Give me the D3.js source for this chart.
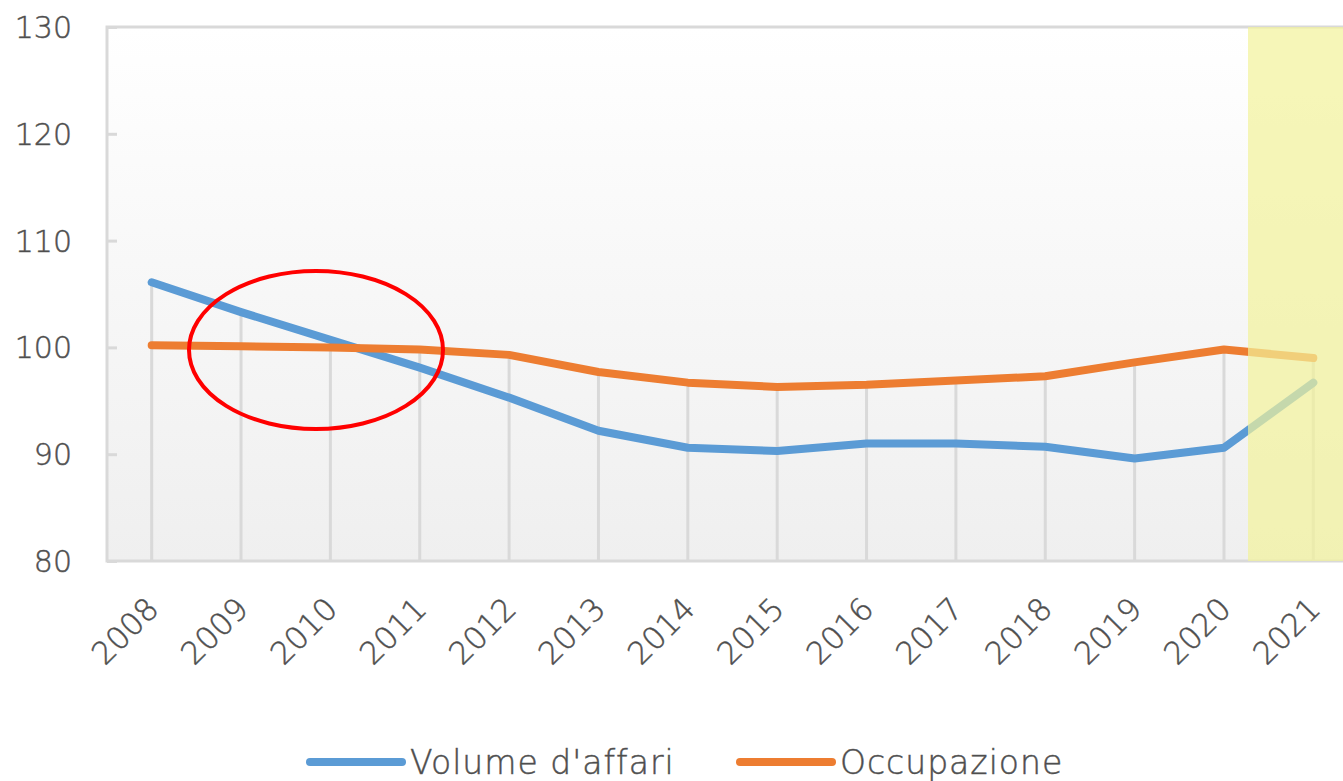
<!DOCTYPE html>
<html>
<head>
<meta charset="utf-8">
<script src="https://cdn.jsdelivr.net/npm/d3@7"></script>
<style>
  body { margin: 0; background: #fff; }
  svg text { font-family: "Century Gothic", "DejaVu Sans", sans-serif; font-weight: 200;
             fill: #4a4a4a; stroke: #5a5a5a; stroke-width: 0.5px; }
</style>
</head>
<body>
<svg id="chart" width="1343" height="781"></svg>
<script>
"use strict";

const years = ["2008", "2009", "2010", "2011", "2012", "2013", "2014",
               "2015", "2016", "2017", "2018", "2019", "2020", "2021"];
const volume = [106.1, 103.3, 100.7, 98.1, 95.3, 92.2, 90.6, 90.3, 91.0, 91.0, 90.7, 89.6, 90.6, 96.7];
const occupazione = [100.2, 100.1, 100.0, 99.8, 99.3, 97.7, 96.7, 96.3, 96.5, 96.9, 97.3, 98.6, 99.8, 99.0];
const yTicks = [80, 90, 100, 110, 120, 130];
const seriesNames = ["Volume d'affari", "Occupazione"];
const seriesColors = ["#5b9bd5", "#ed7d31"];

const svg = d3.select("#chart");
const m_left = 107, m_right = 1358, m_top = 27, m_bottom = 561;

const x = d3.scaleBand().domain(years).range([m_left, m_right]);
const cx = d => x(d) + x.bandwidth() / 2;
const y = d3.scaleLinear().domain([80, 130]).range([m_bottom, m_top]);

// background gradient
let grad = svg.append("defs").append("linearGradient")
	.attr("id", "bg").attr("x1", 0).attr("y1", 0).attr("x2", 0).attr("y2", 1);
grad.append("stop").attr("offset", "0%").attr("stop-color", "#ffffff");
grad.append("stop").attr("offset", "100%").attr("stop-color", "#efefef");

svg.append("rect")
	.attr("x", m_left).attr("y", m_top)
	.attr("width", m_right - m_left).attr("height", m_bottom - m_top)
	.attr("fill", "url(#bg)")
	.attr("stroke", "#d9d9d9").attr("stroke-width", 3);

// drop lines
svg.append("g").selectAll("line")
	.data(years)
	.join("line")
	.attr("x1", d => cx(d)).attr("x2", d => cx(d))
	.attr("y1", (d, i) => y(Math.max(volume[i], occupazione[i])))
	.attr("y2", m_bottom)
	.attr("stroke", "#d9d9d9").attr("stroke-width", 3);

// y axis
const yAxis = svg.append("g")
	.attr("transform", `translate(${m_left},0)`)
	.call(d3.axisRight(y).tickValues(yTicks).tickSize(10).tickFormat(d3.format("d")));
yAxis.select(".domain").remove();
yAxis.selectAll(".tick line").attr("stroke", "#d9d9d9").attr("stroke-width", 3);
yAxis.selectAll(".tick text")
	.attr("x", -35).attr("text-anchor", "end")
	.attr("dy", "0.35em")
	.style("font-size", "30px");

// x axis labels
const xAxis = svg.append("g")
	.attr("transform", `translate(0,${m_bottom})`)
	.call(d3.axisBottom(x).tickSize(0));
xAxis.select(".domain").remove();
xAxis.selectAll(".tick text")
	.attr("text-anchor", "end")
	.attr("transform", "translate(-1,40) rotate(-45)")
	.attr("dy", "0.35em")
	.style("font-size", "31px");

// lines
const line = d3.line().x((d, i) => cx(years[i])).y(d => y(d));
[volume, occupazione].forEach((s, k) => {
	svg.append("path")
		.datum(s)
		.attr("d", line)
		.attr("fill", "none")
		.attr("stroke", seriesColors[k])
		.attr("stroke-width", 8)
		.attr("stroke-linejoin", "round")
		.attr("stroke-linecap", "round");
});

// highlighted forecast area
svg.append("rect")
	.attr("x", 1248).attr("y", m_top)
	.attr("width", m_right - 1248).attr("height", m_bottom - m_top)
	.attr("fill", "#f2f29a").attr("opacity", 0.7);

// red ellipse
svg.append("ellipse")
	.attr("cx", 316).attr("cy", 350)
	.attr("rx", 127).attr("ry", 79)
	.attr("fill", "none")
	.attr("stroke", "#ff0000").attr("stroke-width", 4);

// legend
const legend = svg.append("g").attr("transform", "translate(0,762)");
const legendX = [310, 740];
seriesNames.forEach((n, k) => {
	legend.append("line")
		.attr("x1", legendX[k]).attr("x2", legendX[k] + 92)
		.attr("stroke", seriesColors[k]).attr("stroke-width", 8)
		.attr("stroke-linecap", "round");
	legend.append("text")
		.attr("x", legendX[k] + 100).attr("dy", "0.35em")
		.style("font-size", "33px")
		.style("letter-spacing", "1px")
		.text(n);
});
</script>
</body>
</html>
